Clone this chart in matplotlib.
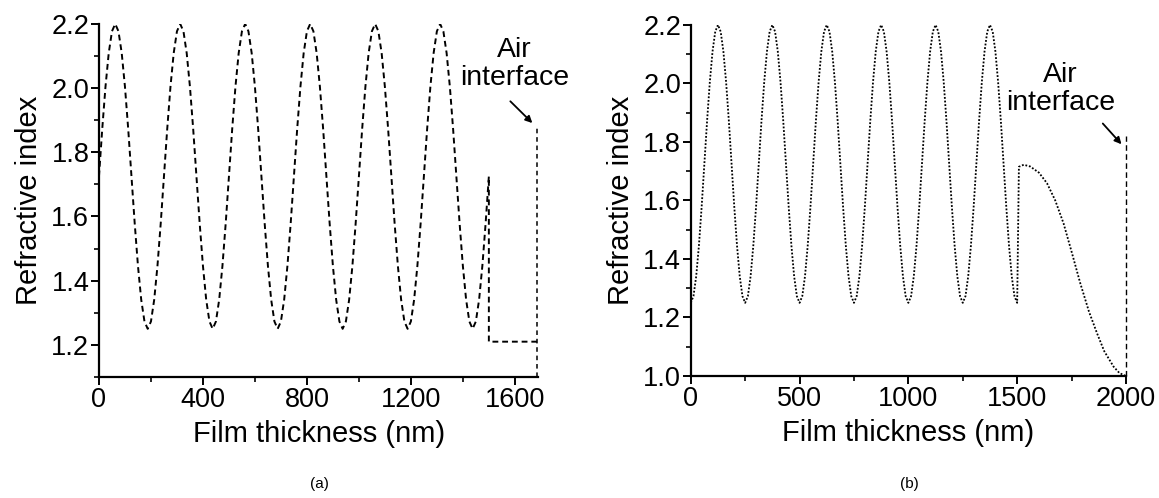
"""
Refractive index depth profiles of two graded films, panels (a) and (b).
"""

import matplotlib
matplotlib.use("Agg")
from matplotlib import pyplot as plt
from matplotlib.ticker import MultipleLocator

plt.rcParams["font.family"] = ["Liberation Sans", "DejaVu Sans"]

# ───────── DATA ───────── #
# panel (a): sampled every 12.5 nm, rugate section 0-1500 nm then a flat layer
thick_a = [i * 12.5 for i in range(121)] + [1500, 1685]
index_a = [
    1.725, 1.872, 2.004, 2.109, 2.177, 2.200, 2.177, 2.109, 2.004, 1.872,
    1.725, 1.578, 1.446, 1.341, 1.273, 1.250, 1.273, 1.341, 1.446, 1.578,
    1.725, 1.872, 2.004, 2.109, 2.177, 2.200, 2.177, 2.109, 2.004, 1.872,
    1.725, 1.578, 1.446, 1.341, 1.273, 1.250, 1.273, 1.341, 1.446, 1.578,
    1.725, 1.872, 2.004, 2.109, 2.177, 2.200, 2.177, 2.109, 2.004, 1.872,
    1.725, 1.578, 1.446, 1.341, 1.273, 1.250, 1.273, 1.341, 1.446, 1.578,
    1.725, 1.872, 2.004, 2.109, 2.177, 2.200, 2.177, 2.109, 2.004, 1.872,
    1.725, 1.578, 1.446, 1.341, 1.273, 1.250, 1.273, 1.341, 1.446, 1.578,
    1.725, 1.872, 2.004, 2.109, 2.177, 2.200, 2.177, 2.109, 2.004, 1.872,
    1.725, 1.578, 1.446, 1.341, 1.273, 1.250, 1.273, 1.341, 1.446, 1.578,
    1.725, 1.872, 2.004, 2.109, 2.177, 2.200, 2.177, 2.109, 2.004, 1.872,
    1.725, 1.578, 1.446, 1.341, 1.273, 1.250, 1.273, 1.341, 1.446, 1.578,
    1.725, 1.210, 1.210,
]
air_a = 1685          # air interface position (nm)
air_a_top = 1.88

# panel (b): rugate section 0-1500 nm, then graded top layer to 2000 nm
thick_b = [i * 12.5 for i in range(121)] + [
    1508, 1530, 1560, 1600, 1637, 1675, 1713, 1750, 1790,
    1830, 1867, 1900, 1943, 1970, 2000,
]
index_b = [
    1.250, 1.273, 1.341, 1.446, 1.578, 1.725, 1.872, 2.004, 2.109, 2.177,
    2.200, 2.177, 2.109, 2.004, 1.872, 1.725, 1.578, 1.446, 1.341, 1.273,
    1.250, 1.273, 1.341, 1.446, 1.578, 1.725, 1.872, 2.004, 2.109, 2.177,
    2.200, 2.177, 2.109, 2.004, 1.872, 1.725, 1.578, 1.446, 1.341, 1.273,
    1.250, 1.273, 1.341, 1.446, 1.578, 1.725, 1.872, 2.004, 2.109, 2.177,
    2.200, 2.177, 2.109, 2.004, 1.872, 1.725, 1.578, 1.446, 1.341, 1.273,
    1.250, 1.273, 1.341, 1.446, 1.578, 1.725, 1.872, 2.004, 2.109, 2.177,
    2.200, 2.177, 2.109, 2.004, 1.872, 1.725, 1.578, 1.446, 1.341, 1.273,
    1.250, 1.273, 1.341, 1.446, 1.578, 1.725, 1.872, 2.004, 2.109, 2.177,
    2.200, 2.177, 2.109, 2.004, 1.872, 1.725, 1.578, 1.446, 1.341, 1.273,
    1.250, 1.273, 1.341, 1.446, 1.578, 1.725, 1.872, 2.004, 2.109, 2.177,
    2.200, 2.177, 2.109, 2.004, 1.872, 1.725, 1.578, 1.446, 1.341, 1.273,
    1.250,
    1.715, 1.722, 1.716, 1.695, 1.659, 1.600, 1.522, 1.425, 1.317,
    1.220, 1.146, 1.085, 1.032, 1.010, 1.000,
]
air_b = 2000
air_b_top = 1.82
# ────────────────────────────────────────────── #

TICK_FS = 19.5
LABEL_FS = 21


def style_axes(ax, xmax, xmajor, ymin):
    for side in ("top", "right"):
        ax.spines[side].set_visible(False)
    for side in ("left", "bottom"):
        ax.spines[side].set_linewidth(1.6)
    ax.set_xlim(0, xmax)
    ax.set_ylim(ymin, 2.2)
    ax.xaxis.set_major_locator(MultipleLocator(xmajor))
    ax.xaxis.set_minor_locator(MultipleLocator(xmajor / 2))
    ax.yaxis.set_major_locator(MultipleLocator(0.2))
    ax.yaxis.set_minor_locator(MultipleLocator(0.1))
    ax.yaxis.set_major_formatter(lambda v, p: f"{v:.1f}")
    ax.tick_params(which="major", direction="out", length=6, width=1.4,
                   labelsize=TICK_FS, pad=1)
    ax.tick_params(which="minor", direction="out", length=3.5, width=1.2)
    ax.set_xlabel("Film thickness (nm)", fontsize=LABEL_FS, labelpad=5)
    ax.set_ylabel("Refractive index", fontsize=LABEL_FS, labelpad=6)


fig = plt.figure(figsize=(11.59, 4.98), dpi=100)
ax_a = fig.add_axes([0.0854, 0.243, 0.379, 0.709])
ax_b = fig.add_axes([0.596, 0.245, 0.3755, 0.705])

# (a)
ax_a.plot(thick_a, index_a, color="black", lw=1.4, ls=(0, (3, 2)))
ax_a.plot([air_a, air_a], [1.1, air_a_top], color="black", lw=1.1,
          ls=(0, (3, 2.5)), clip_on=False)
style_axes(ax_a, 1690, 400, 1.1)
ax_a.text(1598, 1.99, "Air\ninterface", ha="center", va="bottom",
          fontsize=20.5, linespacing=1.1)
ax_a.annotate("", xy=(1675, 1.885), xytext=(1575, 1.965),
              arrowprops=dict(arrowstyle="-|>", color="black", lw=1.3,
                              mutation_scale=10))

# (b)
ax_b.plot(thick_b, index_b, color="black", lw=1.3, ls=(0, (1, 1)))
ax_b.plot([air_b, air_b], [1.0, air_b_top], color="black", lw=1.0,
          ls=(0, (4, 2.5)), clip_on=False)
style_axes(ax_b, 2000, 500, 1.0)
ax_b.text(1700, 1.89, "Air\ninterface", ha="center", va="bottom",
          fontsize=20.5, linespacing=1.1)
ax_b.annotate("", xy=(1988, 1.785), xytext=(1885, 1.87),
              arrowprops=dict(arrowstyle="-|>", color="black", lw=1.3,
                              mutation_scale=10))

fig.text(0.276, 0.028, "(a)", ha="center", va="center", fontsize=11)
fig.text(0.785, 0.028, "(b)", ha="center", va="center", fontsize=11)

fig.savefig("out.png", dpi=100)
